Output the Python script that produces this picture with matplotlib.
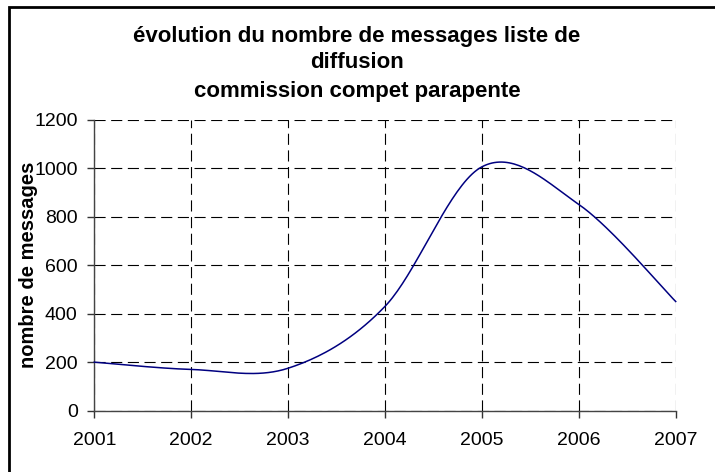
import numpy as np
import matplotlib
matplotlib.use("Agg")
import matplotlib.pyplot as plt
from matplotlib.patches import Rectangle

years = [2001, 2002, 2003, 2004, 2005, 2006, 2007]
messages = [200, 170, 175, 430, 1005, 850, 450]
y_ticks = [0, 200, 400, 600, 800, 1000, 1200]
title_lines = ["évolution du nombre de messages liste de", "diffusion", "commission compet parapente"]
ylabel = "nombre de messages"


def smooth(xs, ys, n=40):
    """Excel-like smoothed line: Catmull-Rom Bezier segments."""
    P = np.column_stack([xs, ys]).astype(float)
    out = [P[0]]
    for i in range(len(P) - 1):
        p0 = P[i - 1] if i > 0 else P[i]
        p1 = P[i]
        p2 = P[i + 1]
        p3 = P[i + 2] if i + 2 < len(P) else P[i + 1]
        c1 = p1 + (p2 - p0) / 6.0
        c2 = p2 - (p3 - p1) / 6.0
        t = np.linspace(0, 1, n)[1:, None]
        seg = ((1 - t) ** 3) * p1 + 3 * ((1 - t) ** 2) * t * c1 + 3 * (1 - t) * t ** 2 * c2 + t ** 3 * p2
        out.extend(seg)
    out = np.array(out)
    return out[:, 0], out[:, 1]


plt.rcParams['font.family'] = ['Liberation Sans', 'DejaVu Sans']

fig = plt.figure(figsize=(7.15, 4.72), dpi=100)
ax = fig.add_axes([94.3 / 715, 1 - 410.7 / 472, (675.7 - 94.3) / 715, (410.7 - 119.5) / 472])

sx, sy = smooth(years, messages)
ax.plot(sx, sy, color='#000080', lw=1.1, zorder=3, clip_on=False)

ax.set_xlim(2001, 2007)
ax.set_ylim(0, 1200)
ax.set_xticks(years)
ax.set_xticklabels([str(y) for y in years])
ax.set_yticks(y_ticks)
ax.set_yticklabels([str(v) for v in y_ticks])
ax.tick_params(axis='both', labelsize=14, color='#333333', length=5, width=1, direction='out')
ax.tick_params(axis='y', pad=7)
ax.tick_params(axis='x', pad=10)

ax.grid(True, color='black', linestyle=(0, (10, 5)), linewidth=0.8)
for s in ['top', 'right']:
    ax.spines[s].set_visible(False)
for s in ['left', 'bottom']:
    ax.spines[s].set_color('#444444')
    ax.spines[s].set_linewidth(1.0)

ax.set_ylabel(ylabel, fontsize=14.5, fontweight='bold')
ax.yaxis.set_label_coords(-0.097, 0.5)

for line, base in zip(title_lines, [42.0, 68.5, 96.5]):
    fig.text(357 / 715, 1 - base / 472, line, ha='center', va='baseline', fontsize=16,
             fontweight='bold')

fig.patches.append(Rectangle((9 / 715, -0.1), 1.2, 1 - 6.5 / 472 + 0.1, transform=fig.transFigure,
                             fill=False, edgecolor='black', linewidth=2))

fig.savefig('out.png', dpi=100)
